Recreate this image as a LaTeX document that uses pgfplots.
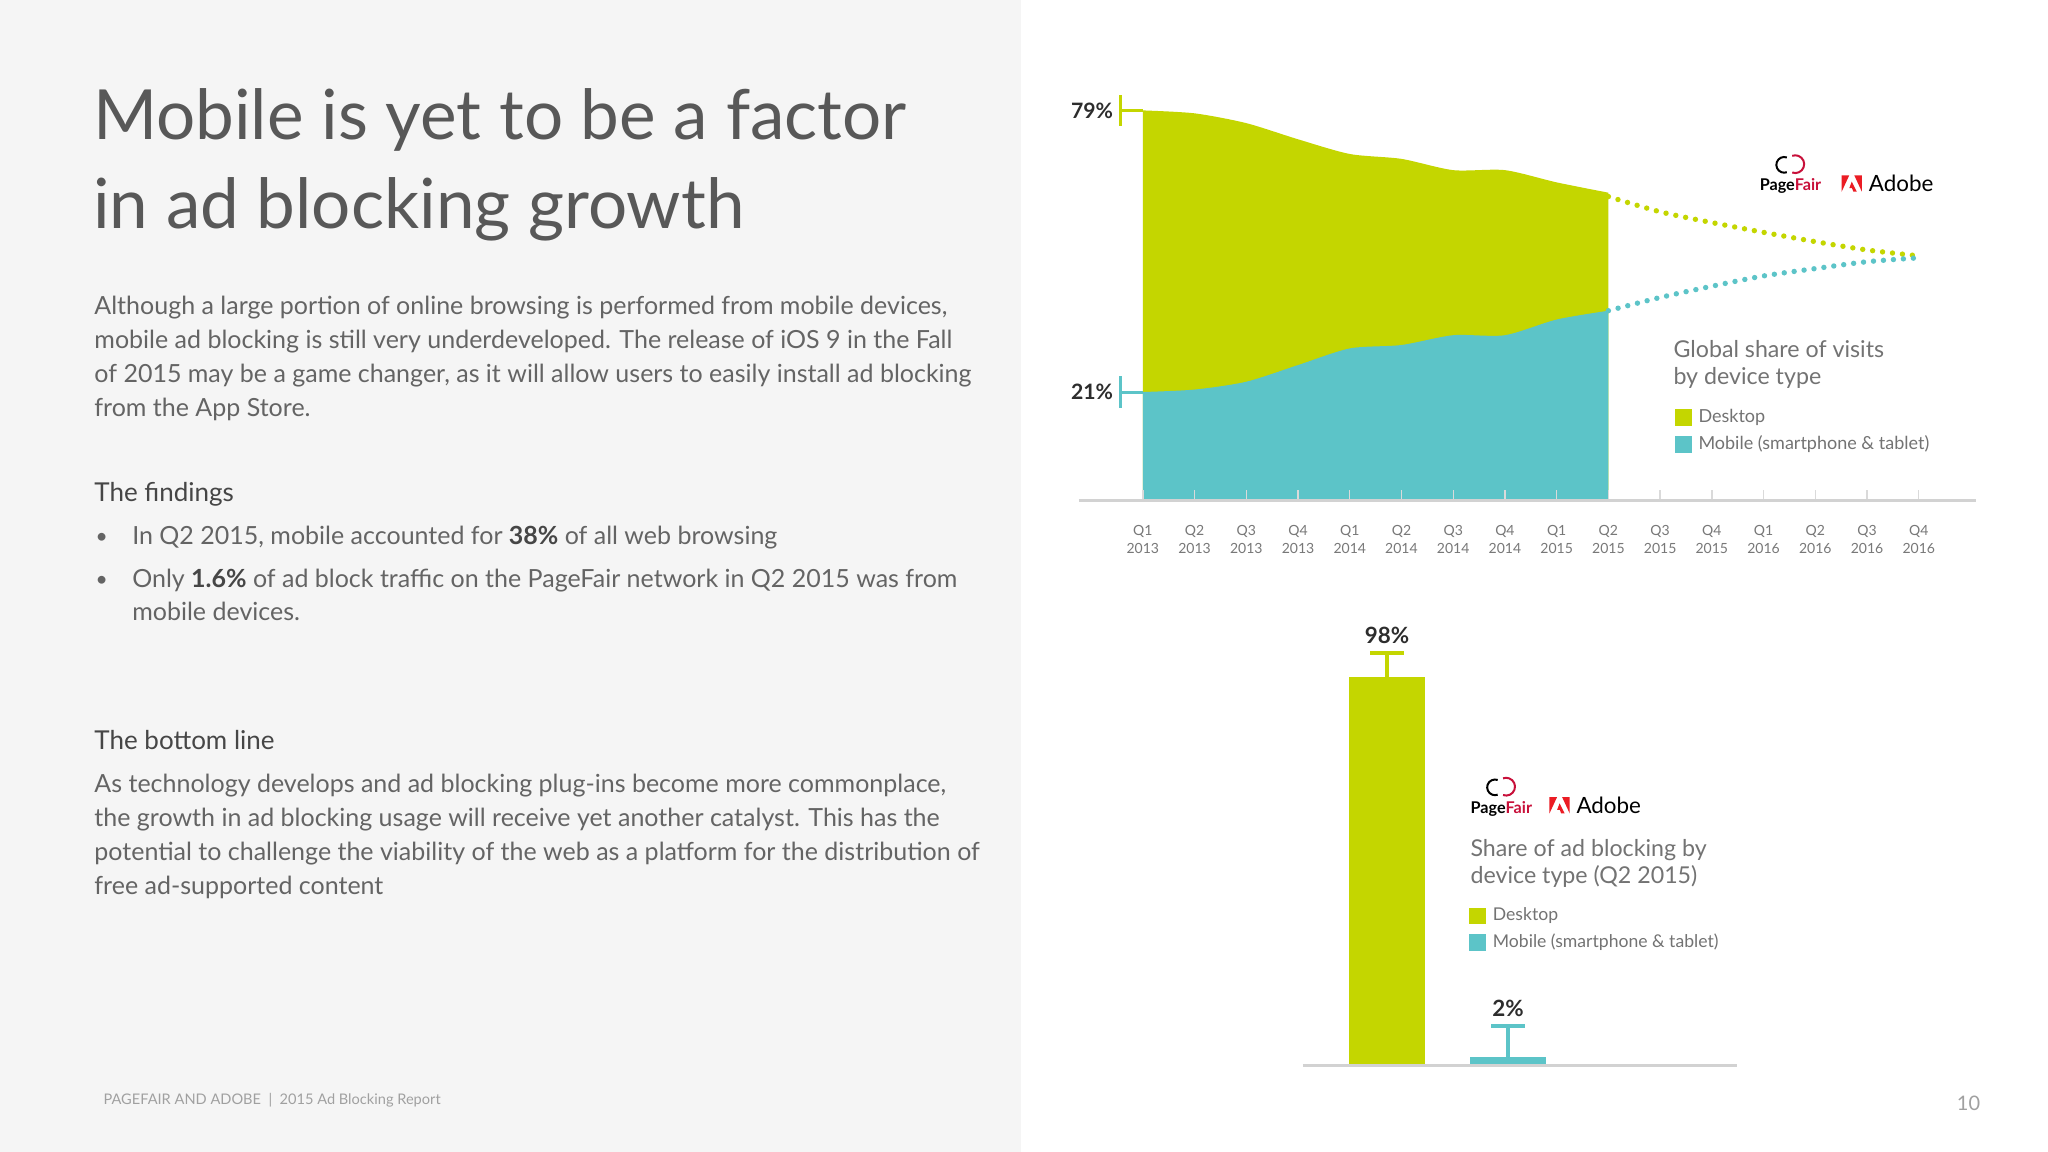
\documentclass[border=0pt]{standalone}
\usepackage{pgfplots}
\pgfplotsset{compat=1.18}
\usepackage{fontspec}
\setmainfont{Lato}

\definecolor{deskc}{RGB}{196,214,0}
\definecolor{mobc}{RGB}{92,196,200}
\definecolor{pfred}{RGB}{200,16,58}
\definecolor{adred}{RGB}{235,28,36}
\definecolor{leftbg}{RGB}{245,245,245}
\definecolor{titlec}{RGB}{88,88,88}
\definecolor{bodyc}{RGB}{100,100,100}
\definecolor{headc}{RGB}{70,70,70}
\definecolor{footc}{RGB}{160,160,160}
\definecolor{tickc}{RGB}{120,120,120}
\definecolor{legc}{RGB}{115,115,115}
\definecolor{labc}{RGB}{45,45,45}
\definecolor{basec}{RGB}{210,210,210}
\definecolor{tickln}{RGB}{218,218,218}

\newcommand{\fs}[2]{\fontsize{#1}{#2}\selectfont}

% small square legend images, centred on the text
\pgfplotsset{
  sqleg/.style={legend image code/.code={\fill[#1] (0pt,-4.15pt) rectangle (8.3pt,4.15pt);}},
}

% PageFair mark + word, origin = baseline left of the word
\newcommand{\pagefair}[2]{%
  \begin{scope}[shift={(#1,#2)}]
    \draw[black, line width=1pt] ([shift={(19,20)}]70:6) arc[start angle=70, end angle=290, radius=6];
    \draw[pfred, line width=1pt] ([shift={(27.5,20.5)}]250:6.8) arc[start angle=250, end angle=470, radius=6.8];
    \node[anchor=base west, inner sep=0pt, font=\fs{8.1pt}{9pt}\bfseries] at (0,0) {Page\textcolor{pfred}{Fair}};
  \end{scope}}
% Adobe mark + word
\newcommand{\adobe}[3]{%
  \begin{scope}[shift={(#1,#2)}]
    \fill[adred] (0,0) -- (0,12.5) -- (5.8,12.5) -- cycle;
    \fill[adred] (15.5,0) -- (15.5,12.5) -- (9.7,12.5) -- cycle;
    \fill[adred] (7.75,7.8) -- (11.6,0) -- (9,0) -- (7.9,2.8) -- (5.9,2.8) -- cycle;
    \node[anchor=base west, inner sep=0pt, font=\fs{11.2pt}{12pt}, text=black] at (#3,0) {Adobe};
  \end{scope}}

\begin{document}
\begin{tikzpicture}[x=0.6531pt, y=0.6531pt]
% page
\fill[white] (0,0) rectangle (1568,-882);
\fill[leftbg] (0,0) rectangle (782,-882);

% left column text
\begin{scope}[every node/.style={anchor=base west, inner sep=0pt}]
\node[font=\fs{34.6pt}{44pt}, text=titlec] at (71,-107) {Mobile is yet to be a factor};
\node[font=\fs{34.6pt}{44pt}, text=titlec] at (71,-175) {in ad blocking growth};

\node[font=\fs{12.5pt}{17pt}, text=bodyc] at (72,-241) {Although a large portion of online browsing is performed from mobile devices,};
\node[font=\fs{12.5pt}{17pt}, text=bodyc] at (72,-267) {mobile ad blocking is still very underdeveloped. The release of iOS 9 in the Fall};
\node[font=\fs{12.5pt}{17pt}, text=bodyc] at (72,-293) {of 2015 may be a game changer, as it will allow users to easily install ad blocking};
\node[font=\fs{12.5pt}{17pt}, text=bodyc] at (72,-319) {from the App Store.};

\node[font=\fs{13pt}{17pt}, text=headc] at (72,-384) {The findings};
\node[font=\fs{10.5pt}{17pt}, text=bodyc] at (73,-416) {\textbullet};
\node[font=\fs{12.5pt}{17pt}, text=bodyc] at (101,-417) {In Q2 2015, mobile accounted for \textcolor{headc}{\bfseries 38\%} of all web browsing};
\node[font=\fs{10.5pt}{17pt}, text=bodyc] at (73,-449) {\textbullet};
\node[font=\fs{12.5pt}{17pt}, text=bodyc] at (101,-450) {Only \textcolor{headc}{\bfseries 1.6\%} of ad block traffic on the PageFair network in Q2 2015 was from};
\node[font=\fs{12.5pt}{17pt}, text=bodyc] at (101,-475) {mobile devices.};

\node[font=\fs{13pt}{17pt}, text=headc] at (72,-574) {The bottom line};
\node[font=\fs{12.5pt}{17pt}, text=bodyc] at (72,-607) {As technology develops and ad blocking plug-ins become more commonplace,};
\node[font=\fs{12.5pt}{17pt}, text=bodyc] at (72,-633) {the growth in ad blocking usage will receive yet another catalyst. This has the};
\node[font=\fs{12.5pt}{17pt}, text=bodyc] at (72,-659) {potential to challenge the viability of the web as a platform for the distribution of};
\node[font=\fs{12.5pt}{17pt}, text=bodyc] at (72,-685) {free ad-supported content};

\node[font=\fs{7.3pt}{9pt}, text=footc] at (79,-846) {PAGEFAIR AND ADOBE\ \ |\ \ 2015 Ad Blocking Report};
\node[font=\fs{10pt}{12pt}, text=footc] at (1498,-850) {10};

% chart captions
\node[font=\fs{11.6pt}{14pt}, text=legc] at (1281,-273.6) {Global share of visits};
\node[font=\fs{11.6pt}{14pt}, text=legc] at (1281,-294) {by device type};
\node[font=\fs{11.6pt}{14pt}, text=legc] at (1125.6,-656) {Share of ad blocking by};
\node[font=\fs{11.6pt}{14pt}, text=legc] at (1125.6,-676.4) {device type (Q2 2015)};
\end{scope}

\pagefair{1347}{-146.2}
\adobe{1410}{-146.8}{20.6}
\pagefair{1125.6}{-622.8}
\adobe{1186.3}{-622.8}{20.4}

% ---------- area chart: share of visits ----------
\begin{axis}[
  at={(539.46pt,-250.14pt)}, anchor=south west, scale only axis,
  width=448.7pt, height=244.9pt,
  xmin=-1.237, xmax=16.11, ymin=0, ymax=100,
  axis y line=none, axis x line*=bottom,
  x axis line style={draw=basec, line width=1.6pt},
  xtick={0,...,15},
  xticklabels={{Q1\\2013},{Q2\\2013},{Q3\\2013},{Q4\\2013},{Q1\\2014},{Q2\\2014},{Q3\\2014},{Q4\\2014},{Q1\\2015},{Q2\\2015},{Q3\\2015},{Q4\\2015},{Q1\\2016},{Q2\\2016},{Q3\\2016},{Q4\\2016}},
  xticklabel style={align=center, font=\fs{7pt}{9.1pt}, text=tickc, inner sep=0pt, anchor=north, yshift=-12.4pt},
  tick align=inside, major tick length=5.2pt,
  tick style={draw=tickln, line width=0.7pt},
  axis on top, clip=false,
  legend style={at={(axis description cs:0.6638,0.1875)}, anchor=north west, draw=none, fill=none,
    inner sep=0pt, row sep=5.1pt, font=\fs{9pt}{10pt}, text=legc,
    nodes={inner sep=0pt, text height=6.6pt, text depth=1.8pt}},
  legend cell align=left,
  /tikz/every odd column/.append style={column sep=3.5pt},
]
\addplot[draw=none, fill=deskc, smooth, tension=0.45, sqleg=deskc] coordinates {
  (0,79.6)(1,79.0)(2,77.0)(3,73.7)(4,70.7)(5,69.7)(6,67.4)(7,67.4)(8,64.9)(9,62.8)
} \closedcycle;
\addlegendentry{Desktop}
\addplot[draw=none, fill=mobc, smooth, tension=0.45, sqleg=mobc] coordinates {
  (0,22.1)(1,22.6)(2,24.2)(3,27.6)(4,31.0)(5,31.7)(6,33.7)(7,33.7)(8,36.9)(9,38.7)
} \closedcycle;
\addlegendentry{Mobile (smartphone \& tablet)}
% projections
\addplot[forget plot, draw=deskc, line width=2.7pt, line cap=round, dash pattern=on 0pt off 5pt, smooth] coordinates {
  (9,62.0)(10,58.9)(11,56.7)(12,54.7)(13,52.8)(14,51.1)(15,49.9)
};
\addplot[forget plot, draw=mobc, line width=2.7pt, line cap=round, dash pattern=on 0pt off 5pt, smooth] coordinates {
  (9,38.7)(10,41.4)(11,43.7)(12,45.8)(13,47.3)(14,48.7)(15,49.5)
};
% start-value markers
\addplot[forget plot, only marks, mark=*, mark size=0pt, mark options={draw=none, fill=none},
  nodes near coords={79\%},
  every node near coord/.append style={anchor=east, xshift=-14.7pt, inner sep=0pt, font=\fs{10.6pt}{12pt}\bfseries, text=labc},
  error bars/.cd, x dir=minus, x explicit,
  error bar style={draw=deskc, line width=1.5pt},
  error mark options={draw=deskc, line width=1.5pt, mark size=7.8pt, rotate=90}]
  coordinates {(0,79.6) -= (0.43,0)};
\addplot[forget plot, only marks, mark=*, mark size=0pt, mark options={draw=none, fill=none},
  nodes near coords={21\%},
  every node near coord/.append style={anchor=east, xshift=-14.7pt, inner sep=0pt, font=\fs{10.6pt}{12pt}\bfseries, text=labc},
  error bars/.cd, x dir=minus, x explicit,
  error bar style={draw=mobc, line width=1.5pt},
  error mark options={draw=mobc, line width=1.5pt, mark size=7.8pt, rotate=90}]
  coordinates {(0,22.1) -= (0.43,0)};
\end{axis}

% ---------- bar chart: share of ad blocking ----------
\begin{axis}[
  at={(651.47pt,-532.60pt)}, anchor=south west, scale only axis,
  width=217.3pt, height=198.2pt,
  xmin=-0.697, xmax=2.898, ymin=0, ymax=100,
  axis y line=none, axis x line*=bottom,
  x axis line style={draw=basec, line width=1.4pt},
  xtick=\empty,
  axis on top, clip=false,
  legend style={at={(axis description cs:0.382,0.398)}, anchor=north west, draw=none, fill=none,
    inner sep=0pt, row sep=4.9pt, font=\fs{8.8pt}{10pt}, text=legc,
    nodes={inner sep=0pt, text height=6.6pt, text depth=1.8pt}},
  legend cell align=left,
  /tikz/every odd column/.append style={column sep=3.5pt},
]
\addplot[ybar, bar width=38pt, bar shift=0pt, draw=none, fill=deskc, sqleg=deskc] coordinates {(0,98)};
\addlegendentry{Desktop}
\addplot[ybar, bar width=38pt, bar shift=0pt, draw=none, fill=mobc, sqleg=mobc] coordinates {(1,2)};
\addlegendentry{Mobile (smartphone \& tablet)}
\addplot[forget plot, only marks, mark=*, mark size=0pt, mark options={draw=none, fill=none},
  nodes near coords={98\%},
  every node near coord/.append style={anchor=base, yshift=16.7pt, inner sep=0pt, font=\fs{11.2pt}{12pt}\bfseries, text=labc},
  error bars/.cd, y dir=plus, y explicit,
  error bar style={draw=deskc, line width=2pt},
  error mark options={draw=deskc, line width=2pt, mark size=8.5pt, rotate=90}]
  coordinates {(0,98) += (0,5.9)};
\addplot[forget plot, only marks, mark=*, mark size=0pt, mark options={draw=none, fill=none},
  nodes near coords={2\%},
  every node near coord/.append style={anchor=base, yshift=20.6pt, inner sep=0pt, font=\fs{11.2pt}{12pt}\bfseries, text=labc},
  error bars/.cd, y dir=plus, y explicit,
  error bar style={draw=mobc, line width=2pt},
  error mark options={draw=mobc, line width=2pt, mark size=8.5pt, rotate=90}]
  coordinates {(1,2) += (0,7.9)};
\end{axis}
\end{tikzpicture}
\end{document}
